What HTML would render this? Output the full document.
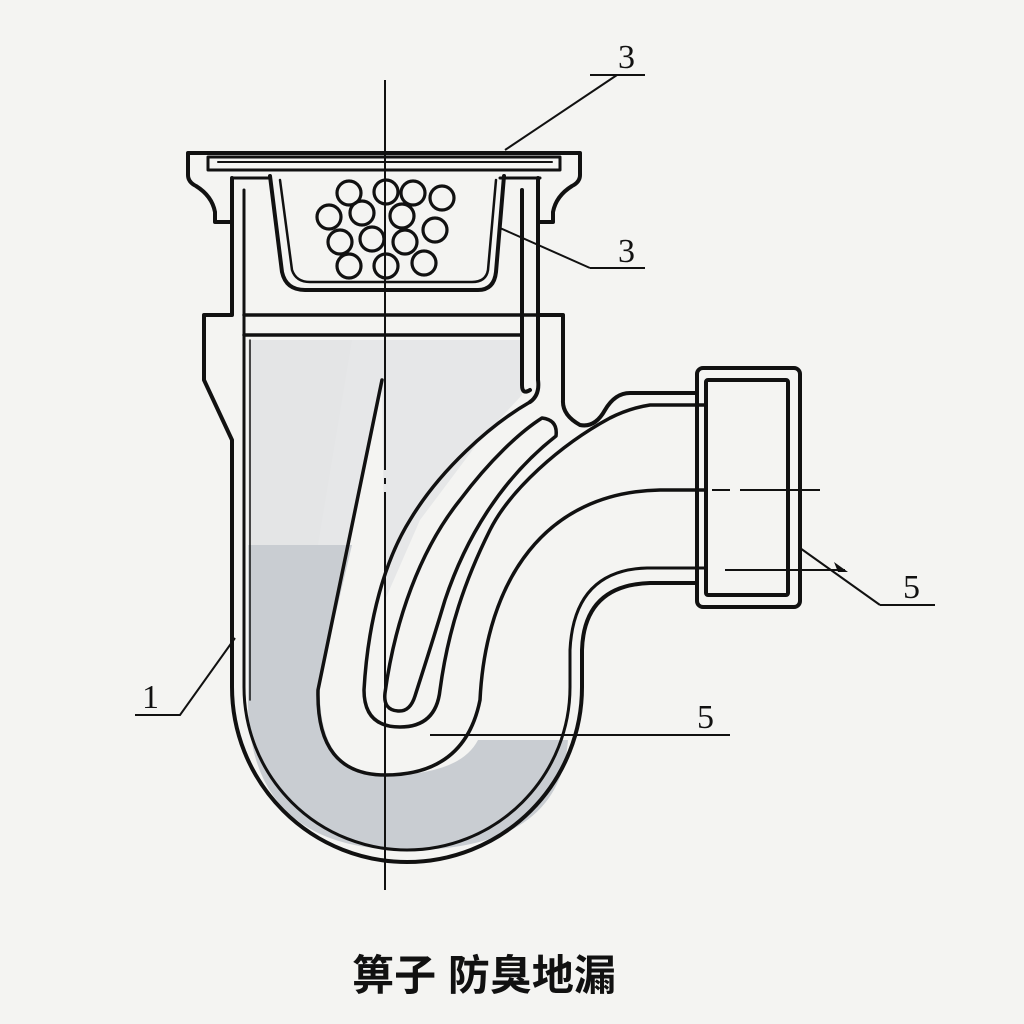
<!DOCTYPE html>
<html><head><meta charset="utf-8"><style>
html,body{margin:0;padding:0;background:#f4f4f2;}
svg{display:block}
</style></head><body>
<svg width="1024" height="1024" viewBox="0 0 1024 1024" xmlns="http://www.w3.org/2000/svg">
<rect width="1024" height="1024" fill="#f4f4f2"/>
<!-- fills -->
<path d="M248,340 H522 V395 L480,440 L420,520 L385,600 L382,380 L330,640 Z" fill="#e6e7e8"/>
<path d="M248,545 H352 L320,680 Q316,775 385,775 Q460,775 478,740 H568 Q560,850 407,850 Q248,850 248,700 Z" fill="#c9cdd2"/>
<path d="M248,340 H352 L318,545 H248 Z" fill="#e4e5e6"/>
<g fill="none" stroke="#111" stroke-width="4" stroke-linejoin="round" stroke-linecap="round">
<!-- top flange -->
<path d="M232,222 H215 V212 Q212,196 196,186 Q188,182 188,175 V153 H580 V175 Q580,182 572,186 Q556,196 553,212 V222 H540"/>
<path d="M208,157 H560 V170 H208 Z" stroke-width="3"/>
<path d="M218,162 H552" stroke-width="2"/>
<path d="M232,178 H270 M500,178 H540" stroke-width="3"/>
<!-- basket -->
<path d="M270,176 L282,272 Q286,290 305,290 H478 Q494,290 496,272 L504,176"/>
<path d="M280,180 L292,270 Q296,282 310,282 H472 Q486,282 488,270 L496,180" stroke-width="2.5"/>
<!-- body walls -->
<path d="M232,178 V315 H204 V380 L232,440 V687 A175,175 0 0 0 582,687 V650 Q584,585 650,583 H697"/>
<path d="M244,190 V687 A163,163 0 0 0 570,687 V650 Q574,570 647,568 H705" stroke-width="3"/>
<path d="M250,340 V700" stroke-width="1.5"/>
<path d="M244,315 H540 M244,335 H522" stroke-width="3.5"/>
<path d="M522,190 V385 Q522,395 530,390 M538,178 V380 Q540,395 530,402"/>
<path d="M540,315 H563 V400 Q562,415 580,425 Q595,428 605,410 Q615,393 630,393 H697"/>
<!-- outlet flange -->
<rect x="697" y="368" width="103" height="239" rx="6"/>
<rect x="706" y="380" width="82" height="215" rx="2"/>
<!-- tongue -->
<path d="M382,380 L318,690 Q316,775 385,775 Q465,775 480,700 C486,580 545,492 660,490 H706" stroke-width="3.5"/>
<!-- slot outer loop -->
<path d="M705,405 H650 Q630,408 610,418 C560,445 510,490 490,530 C465,580 448,630 440,690 Q436,727 400,727 Q364,727 364,690 C368,620 385,560 410,520 C440,470 490,425 530,402" stroke-width="3.5"/>
<!-- slot inner loop -->
<path d="M542,418 Q558,420 556,436 C500,480 465,540 445,600 C430,650 420,680 415,696 Q410,712 398,711 Q383,710 385,693 C395,620 420,550 460,500 C490,460 520,432 542,418 Z" stroke-width="3.5"/>
</g>
<!-- centerlines -->
<g stroke="#111" stroke-width="2" fill="none">
<path d="M385,80 V470 M385,478 V484 M385,492 V890"/>
<path d="M650,490 H700 M712,490 H730 M740,490 H820"/>
<!-- leaders -->
<path d="M590,75 H645 M617,75 L505,150"/>
<path d="M590,268 H645 M590,268 L500,228"/>
<path d="M880,605 H935 M880,605 L800,548"/>
<path d="M725,570 H845"/>
<path d="M430,735 H730"/>
<path d="M135,715 H180 L235,638"/>
</g>
<path d="M848,572 L834,562 L838,572 Z" fill="#111"/>
<!-- circles -->
<g fill="none" stroke="#111" stroke-width="3.2">
<circle cx="349" cy="193" r="12"/><circle cx="386" cy="192" r="12"/><circle cx="413" cy="193" r="12"/><circle cx="442" cy="198" r="12"/>
<circle cx="329" cy="217" r="12"/><circle cx="362" cy="213" r="12"/><circle cx="402" cy="216" r="12"/><circle cx="435" cy="230" r="12"/>
<circle cx="340" cy="242" r="12"/><circle cx="372" cy="239" r="12"/><circle cx="405" cy="242" r="12"/>
<circle cx="349" cy="266" r="12"/><circle cx="386" cy="266" r="12"/><circle cx="424" cy="263" r="12"/>
</g>
<g font-family="Liberation Serif, serif" font-size="34" fill="#111">
<text x="618" y="68">3</text>
<text x="618" y="262">3</text>
<text x="903" y="598">5</text>
<text x="697" y="728">5</text>
<text x="142" y="708">1</text>
</g>
<text x="484" y="990" text-anchor="middle" font-family="'Liberation Sans','Noto Sans CJK SC',sans-serif" font-size="42" font-weight="bold" fill="#111">箅子 防臭地漏</text>
</svg>
</body></html>
